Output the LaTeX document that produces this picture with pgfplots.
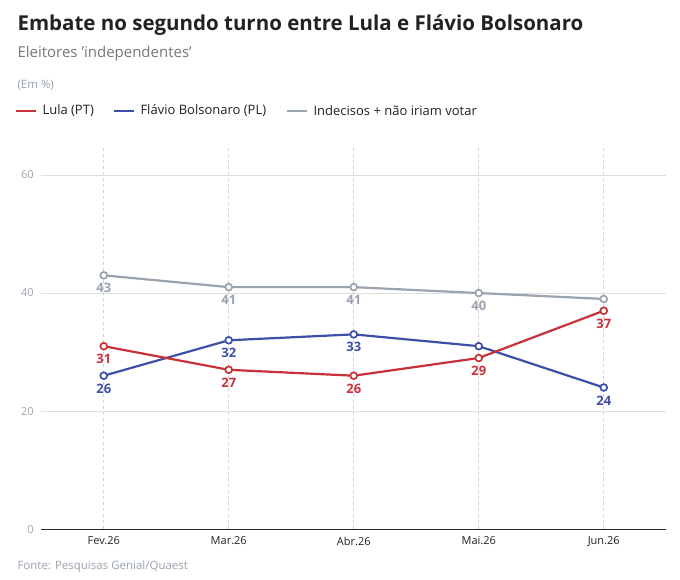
\documentclass[border=0pt]{standalone}
\usepackage{pgfplots}
\pgfplotsset{compat=1.18}
\usepackage{fontspec}
\setmainfont{Open Sans}
\definecolor{cred}{HTML}{C8303A}
\definecolor{cblue}{HTML}{3E4FA8}
\definecolor{cgray}{HTML}{9AA3AE}
\definecolor{ctext}{HTML}{222222}
\definecolor{csub}{HTML}{777777}
\begin{document}
\begin{tikzpicture}[x=1pt,y=1pt]
\path[use as bounding box] (0,0) rectangle (680,580);
\node[anchor=west,font=\bfseries\fontsize{20.5}{24}\selectfont,text=ctext] at (14,555) {Embate no segundo turno entre Lula e Flávio Bolsonaro};
\node[anchor=west,font=\fontsize{15}{18}\selectfont,text=csub] at (14,526) {Eleitores 'independentes'};
\node[anchor=west,font=\fontsize{11.5}{13}\selectfont,text=cgray] at (14,495) {(Em \%)};
\draw[cred,line width=2.4pt] (16,469)--(36,469);
\node[anchor=west,font=\fontsize{13}{15}\selectfont,text=ctext] at (39,469) {Lula (PT)};
\draw[cblue,line width=2.4pt] (114,469)--(134,469);
\node[anchor=west,font=\fontsize{13}{15}\selectfont,text=ctext] at (137,469) {Flávio Bolsonaro (PL)};
\draw[cgray,line width=2.4pt] (287,469)--(307,469);
\node[anchor=west,font=\fontsize{13}{15}\selectfont,text=ctext] at (310,469) {Indecisos + não iriam votar};
\node[anchor=west,font=\fontsize{11.5}{13}\selectfont,text=cgray] at (14,13) {Fonte: Pesquisas Genial/Quaest};
\begin{axis}[at={(33,86)},anchor=south west,scale only axis,width=625,height=382,
 xmin=-0.5,xmax=4.5,ymin=0,ymax=64.7,
 xtick={0,1,2,3,4},xticklabels={Fev.26,Mar.26,Abr.26,Mai.26,Jun.26},
 ytick={0,20,40,60},
 axis line style={draw=none},
 axis x line*=bottom,
 x axis line style={draw=black!85,line width=0.8pt},
 tick style={draw=none},
 ymajorgrids,grid style={gray!25,line width=0.8pt},
 extra x ticks={0,1,2,3,4},extra x tick labels={},
 extra x tick style={grid=major,major grid style={gray!35,dashed,line width=0.8pt}},
 ticklabel style={font=\fontsize{11}{13}\selectfont},
 yticklabel style={text=cgray,xshift=-4pt},
 xticklabel style={text=ctext,yshift=-4pt},
 /pgf/number format/assume math mode=true,
 clip=false,
 point meta=explicit symbolic,
 every axis plot/.style={line width=2.2pt,mark=*,mark size=3.4pt,mark options={fill=white,line width=1.7pt},
   nodes near coords,every node near coord/.style={anchor=north,yshift=-4pt,font=\bfseries\fontsize{13}{15}\selectfont}},
]
\addplot[cgray,every node near coord/.append style={text=cgray}] coordinates {(0,43)[43](1,41)[41](2,41)[41](3,40)[40](4,39)[]};
\addplot[cblue,every node near coord/.append style={text=cblue}] coordinates {(0,26)[26](1,32)[32](2,33)[33](3,31)[](4,24)[24]};
\addplot[cred,every node near coord/.append style={text=cred}] coordinates {(0,31)[31](1,27)[27](2,26)[26](3,29)[29](4,37)[37]};
\end{axis}
\end{tikzpicture}
\end{document}
